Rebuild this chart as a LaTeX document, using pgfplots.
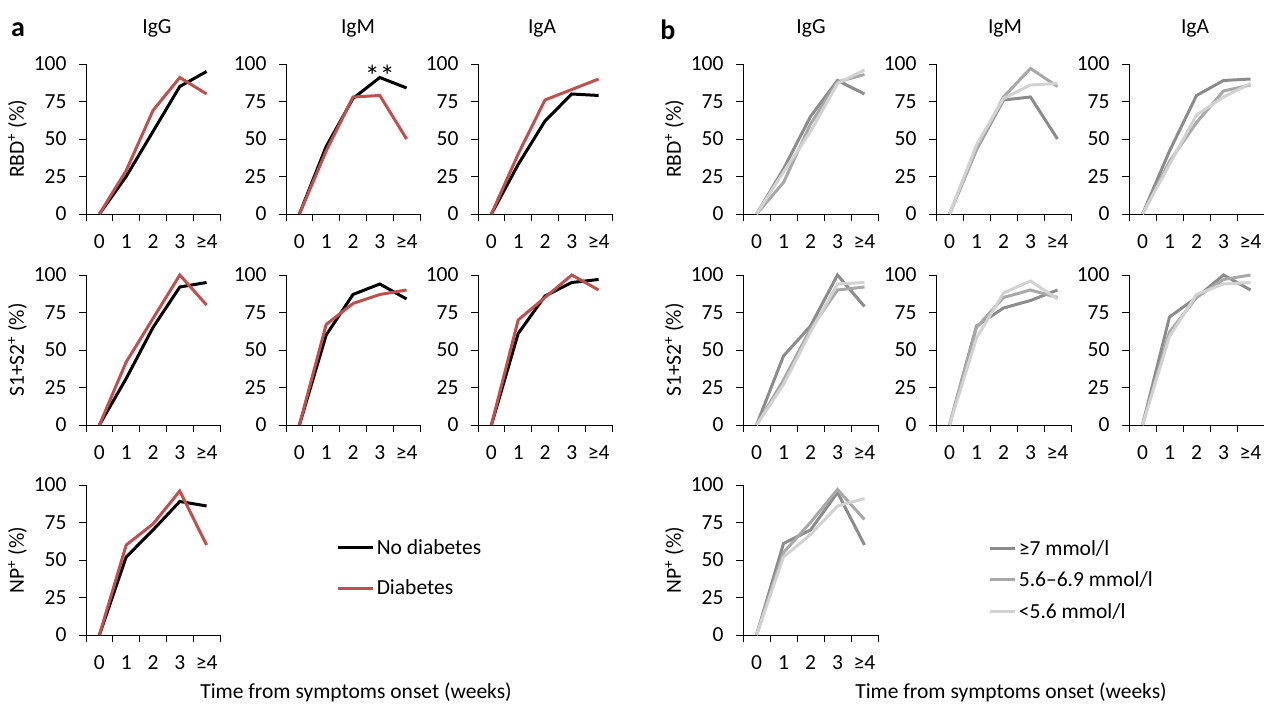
\documentclass[border=0pt]{standalone}
\usepackage{fontspec}
\setmainfont{Carlito}
\usepackage{pgfplots}
\pgfplotsset{compat=1.18}
\definecolor{dred}{HTML}{C0504D}
\definecolor{gdark}{HTML}{8C8C8C}
\definecolor{gmed}{HTML}{A8A8A8}
\definecolor{glight}{HTML}{D2D2D2}
\newcommand\fsz{\fontsize{21.5}{25}\selectfont}
\pgfplotsset{
  panel/.style={
    scale only axis, height=150pt,
    xmin=-0.5, xmax=4.5, ymin=0, ymax=100,
    axis x line*=bottom, axis y line*=left,
    xtick={0,1,2,3,4}, xticklabels={0,1,2,3,≥4},
    major x tick style={draw=none},
    minor xtick={-0.5,0.5,1.5,2.5,3.5,4.5},
    ytick={0,25,50,75,100},
    tick align=outside,
    major tick length=7pt, minor tick length=7pt,
    every tick/.style={black, line width=0.9pt},
    axis line style={black, line width=0.9pt},
    tick label style={font=\fsz},
    label style={font=\fsz},
    /pgf/number format/assume math mode=true,
    xticklabel style={yshift=-10pt},
    yticklabel style={xshift=-9pt},
    clip=false,
    legend cell align=left,
  },
  pa/.style={panel, width=134pt},
  pb/.style={panel, width=135pt},
  blk/.style={black, line width=3pt},
  red/.style={dred, line width=3pt},
  gd/.style={gdark, line width=3pt},
  gm/.style={gmed, line width=3pt},
  gl/.style={glight, line width=3pt},
}
\begin{document}
\begin{tikzpicture}[x=1pt,y=1pt]
\path[use as bounding box] (0,0) rectangle (1264,706);
% ---------------- panel labels and titles
\node[font=\fontsize{28}{30}\selectfont\bfseries] at (18,676) {a};
\node[font=\fontsize{28}{30}\selectfont\bfseries] at (668,676) {b};
\node[font=\fsz] at (157,678) {IgG};
\node[font=\fsz] at (358,678) {IgM};
\node[font=\fsz] at (542,678) {IgA};
\node[font=\fsz] at (811,678) {IgG};
\node[font=\fsz] at (1005,678) {IgM};
\node[font=\fsz] at (1195,678) {IgA};
\node[font=\fsz] at (356,14) {Time from symptoms onset (weeks)};
\node[font=\fsz] at (1011,14) {Time from symptoms onset (weeks)};
% ================= panel a =================
% RBD IgG
\begin{axis}[pa, at={(86pt,492pt)}, anchor=south west, ylabel={RBD\textsuperscript{+} (\%)}]
\addplot[blk] coordinates {(0,0) (1,25) (2,55) (3,85) (4,95)};
\addplot[red] coordinates {(0,0) (1,29) (2,69) (3,91) (4,80)};
\end{axis}
% RBD IgM
\begin{axis}[pa, at={(286pt,492pt)}, anchor=south west]
\addplot[blk] coordinates {(0,0) (1,45) (2,77) (3,91) (4,84)};
\addplot[red] coordinates {(0,0) (1,42) (2,78) (3,79) (4,50)};
\node[font=\fontsize{30}{30}\selectfont] at (axis cs:3,92) {**};
\end{axis}
% RBD IgA
\begin{axis}[pa, at={(478pt,492pt)}, anchor=south west]
\addplot[blk] coordinates {(0,0) (1,33) (2,62) (3,80) (4,79)};
\addplot[red] coordinates {(0,0) (1,40) (2,76) (3,83) (4,90)};
\end{axis}
% S1+S2 IgG
\begin{axis}[pa, at={(86pt,281pt)}, anchor=south west, ylabel={S1+S2\textsuperscript{+} (\%)}]
\addplot[blk] coordinates {(0,0) (1,31) (2,65) (3,92) (4,95)};
\addplot[red] coordinates {(0,0) (1,42) (2,71) (3,100) (4,80)};
\end{axis}
% S1+S2 IgM
\begin{axis}[pa, at={(286pt,281pt)}, anchor=south west]
\addplot[blk] coordinates {(0,0) (1,60) (2,87) (3,94) (4,84)};
\addplot[red] coordinates {(0,0) (1,67) (2,81) (3,87) (4,90)};
\end{axis}
% S1+S2 IgA
\begin{axis}[pa, at={(478pt,281pt)}, anchor=south west]
\addplot[blk] coordinates {(0,0) (1,61) (2,86) (3,95) (4,97)};
\addplot[red] coordinates {(0,0) (1,70) (2,85) (3,100) (4,90)};
\end{axis}
% NP IgG
\begin{axis}[pa, at={(86pt,71pt)}, anchor=south west, ylabel={NP\textsuperscript{+} (\%)},
  legend style={at={(1.87,0.447)}, anchor=west, draw=none, fill=none, font=\fsz,
    inner sep=0pt, row sep=20pt, nodes={inner sep=2pt}},
  legend image code/.code={\draw[#1] (0pt,0pt) -- (35pt,0pt);}]
\addplot[blk] coordinates {(0,0) (1,52) (2,70) (3,89) (4,86)};
\addplot[red] coordinates {(0,0) (1,60) (2,74) (3,96) (4,60)};
\legend{No diabetes, Diabetes}
\end{axis}
% ================= panel b =================
% RBD IgG
\begin{axis}[pb, at={(743pt,492pt)}, anchor=south west, ylabel={RBD\textsuperscript{+} (\%)}]
\addplot[gd] coordinates {(0,0) (1,30) (2,65) (3,89) (4,80)};
\addplot[gm] coordinates {(0,0) (1,21) (2,60) (3,88) (4,93)};
\addplot[gl] coordinates {(0,0) (1,28) (2,55) (3,87) (4,96)};
\end{axis}
% RBD IgM
\begin{axis}[pb, at={(936pt,492pt)}, anchor=south west]
\addplot[gd] coordinates {(0,0) (1,43) (2,76) (3,78) (4,50)};
\addplot[gm] coordinates {(0,0) (1,43) (2,78) (3,97) (4,85)};
\addplot[gl] coordinates {(0,0) (1,46) (2,77) (3,86) (4,87)};
\end{axis}
% RBD IgA
\begin{axis}[pb, at={(1129pt,492pt)}, anchor=south west]
\addplot[gd] coordinates {(0,0) (1,42) (2,79) (3,89) (4,90)};
\addplot[gm] coordinates {(0,0) (1,35) (2,61) (3,82) (4,86)};
\addplot[gl] coordinates {(0,0) (1,33) (2,66) (3,78) (4,87)};
\end{axis}
% S1+S2 IgG
\begin{axis}[pb, at={(743pt,281pt)}, anchor=south west, ylabel={S1+S2\textsuperscript{+} (\%)}]
\addplot[gd] coordinates {(0,0) (1,46) (2,66) (3,100) (4,79)};
\addplot[gm] coordinates {(0,0) (1,30) (2,64) (3,90) (4,92)};
\addplot[gl] coordinates {(0,0) (1,27) (2,62) (3,94) (4,95)};
\end{axis}
% S1+S2 IgM
\begin{axis}[pb, at={(936pt,281pt)}, anchor=south west]
\addplot[gd] coordinates {(0,0) (1,66) (2,78) (3,83) (4,90)};
\addplot[gm] coordinates {(0,0) (1,65) (2,85) (3,90) (4,85)};
\addplot[gl] coordinates {(0,0) (1,58) (2,88) (3,96) (4,84)};
\end{axis}
% S1+S2 IgA
\begin{axis}[pb, at={(1129pt,281pt)}, anchor=south west]
\addplot[gd] coordinates {(0,0) (1,72) (2,85) (3,100) (4,90)};
\addplot[gm] coordinates {(0,0) (1,62) (2,85) (3,97) (4,100)};
\addplot[gl] coordinates {(0,0) (1,59) (2,87) (3,94) (4,95)};
\end{axis}
% NP IgG
\begin{axis}[pb, at={(743pt,71pt)}, anchor=south west, ylabel={NP\textsuperscript{+} (\%)},
  legend style={at={(1.82,0.367)}, anchor=west, draw=none, fill=none, font=\fsz,
    inner sep=0pt, row sep=11pt, nodes={inner sep=2pt}},
  legend image code/.code={\draw[#1] (0pt,0pt) -- (25pt,0pt);}]
\addplot[gd] coordinates {(0,0) (1,61) (2,70) (3,95) (4,60)};
\addplot[gm] coordinates {(0,0) (1,55) (2,75) (3,97) (4,77)};
\addplot[gl] coordinates {(0,0) (1,52) (2,67) (3,86) (4,91)};
\legend{≥7 mmol/l, 5.6–6.9 mmol/l, <5.6 mmol/l}
\end{axis}
\end{tikzpicture}
\end{document}
